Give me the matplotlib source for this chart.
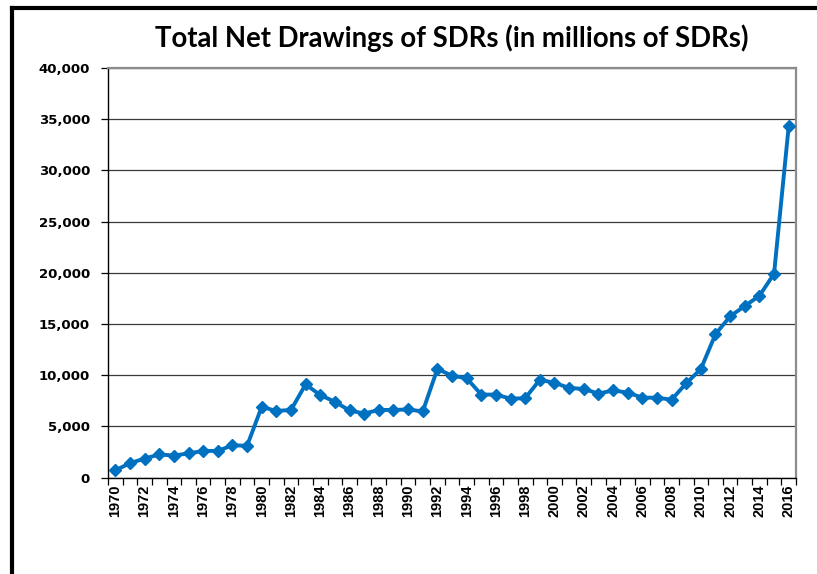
import numpy as np
import matplotlib
matplotlib.use("Agg")
import matplotlib.pyplot as plt
from matplotlib.lines import Line2D

# Net SDR drawings per year, millions of SDRs
years = list(range(1970, 2017))
net_drawings = [
    700, 1400, 1850, 2250, 2150, 2350, 2600, 2600, 3150, 3100,
    6900, 6500, 6600, 9100, 8050, 7400, 6550, 6250, 6600, 6600,
    6650, 6450, 10600, 9950, 9700, 8100, 8100, 7700, 7750, 9550,
    9250, 8750, 8650, 8200, 8500, 8300, 7800, 7800, 7600, 9200,
    10600, 14000, 15750, 16750, 17750, 19900, 34300,
]
label_years = list(range(1970, 2017, 2))
y_ticks = list(range(0, 40001, 5000))

line_blue = "#0070C0"

fig = plt.figure(figsize=(8.17, 5.74), dpi=100, facecolor="white")
ax = fig.add_axes([0.1322, 0.1681, 0.8421, 0.7134])

ax.plot(years, net_drawings, color=line_blue, lw=2.8, marker="D",
        markersize=6.5, markeredgecolor=line_blue, zorder=3)

ax.set_ylim(0, 40000)
ax.set_xlim(years[0] - 0.5, years[-1] + 0.5)

ax.set_yticks(y_ticks, labels=[f"{v:,}" for v in y_ticks],
              fontfamily="DejaVu Sans", fontweight="bold", fontsize=9.5)
ax.grid(axis="y", color="#3a3a3a", lw=0.9)
ax.set_axisbelow(True)

# one tick mark per category boundary, labels on every second year
ax.set_xticks(np.arange(years[0] - 0.5, years[-1] + 1, 1.0), labels=[])
ax.set_xticks(label_years, labels=[str(y) for y in label_years], minor=True,
              rotation=90, fontfamily="Liberation Sans", fontweight="bold",
              fontsize=10.5)
ax.tick_params(axis="x", which="major", length=5, width=0.9, color="black",
               direction="out")
ax.tick_params(axis="x", which="minor", length=0, pad=5)
ax.tick_params(axis="y", length=5, width=0.9, direction="out", pad=8)

ax.spines["left"].set_color("black")
ax.spines["bottom"].set_color("black")
ax.spines["left"].set_linewidth(1.0)
ax.spines["bottom"].set_linewidth(1.0)
ax.spines["top"].set_color("#8c8c8c")
ax.spines["right"].set_color("#8c8c8c")
ax.spines["top"].set_linewidth(1.6)
ax.spines["right"].set_linewidth(1.6)

fig.text(0.553, 0.934, "Total Net Drawings of SDRs (in millions of SDRs)",
         ha="center", va="center", fontfamily="Lato", fontweight="bold",
         fontsize=19.8)

# outer frame: top and left edges only
W, H = 817, 574
fig.add_artist(Line2D([12 / W, 1.0], [1 - 7.5 / H, 1 - 7.5 / H],
                      transform=fig.transFigure, color="black", lw=3.0,
                      solid_capstyle="projecting"))
fig.add_artist(Line2D([12 / W, 12 / W], [1 - 7.5 / H, 0.0],
                      transform=fig.transFigure, color="black", lw=3.0,
                      solid_capstyle="projecting"))

fig.savefig("out.png", dpi=100, facecolor="white")
